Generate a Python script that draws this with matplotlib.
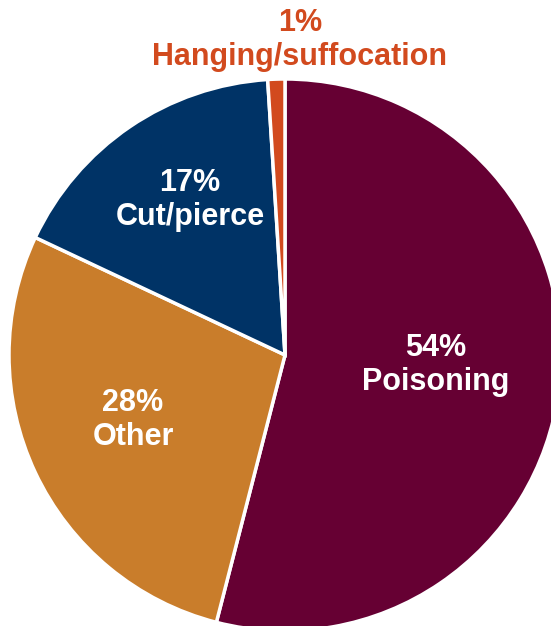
import matplotlib
matplotlib.use("Agg")
import matplotlib.pyplot as plt

# data
labels = ["Poisoning", "Other", "Cut/pierce", "Hanging/suffocation"]
shares = [54, 28, 17, 1]
colors = ["#660033", "#C97D2B", "#003366", "#D24A1E"]

plt.rcParams['font.family'] = ['Liberation Sans', 'DejaVu Sans']

fig = plt.figure(figsize=(5.51, 6.26), dpi=100)
ax = fig.add_axes([0, 0, 1, 1])

ax.pie(shares, colors=colors, startangle=90, counterclock=False,
       center=(285, 271), radius=276,
       wedgeprops=dict(edgecolor='white', linewidth=2.5))

# pie() resets the view, so set limits afterwards
ax.set_xlim(0, 551)
ax.set_ylim(0, 626)
ax.set_aspect('equal')
ax.axis('off')

# labels (positions in pixel space, y from top)
lab_pos = [(436, 365), (133, 420), (190, 200), (300, 40)]
lab_col = ["white", "white", "white", "#D24A1E"]
for lab, s, (x, y), c in zip(labels, shares, lab_pos, lab_col):
    ax.text(x, 626 - y, f"{s}%\n{lab}", ha='center', va='center',
            fontsize=22, fontweight='bold', color=c, linespacing=1.2)

fig.savefig("out.png", dpi=100)
